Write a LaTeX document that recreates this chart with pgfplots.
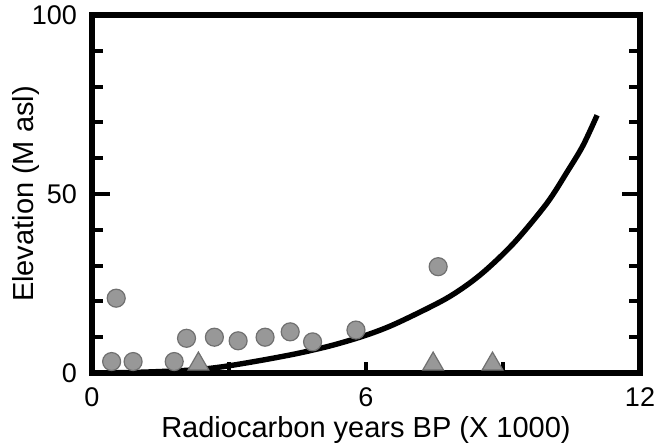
\documentclass[border=0pt]{standalone}
\usepackage{fontspec}
\setmainfont{Liberation Sans}
\usepackage{pgfplots}
\pgfplotsset{compat=1.18}
\definecolor{markfill}{RGB}{152,152,152}
\definecolor{markedge}{RGB}{112,112,112}
\begin{document}
\begin{tikzpicture}
\useasboundingbox (-46pt,-37pt) rectangle (288pt,186.5pt);
\begin{axis}[
  scale only axis, width=274pt, height=179pt,
  xmin=0, xmax=12, ymin=0, ymax=100,
  clip=false,
  xtick={0,6,12}, ytick={0,50,100},
  minor xtick={3,6,9}, minor ytick={10,20,30,40,60,70,80,90},
  xtick pos=left, xticklabel pos=left,
  ytick pos=both, yticklabel pos=left,
  tick align=inside,
  major tick length=9pt, minor tick length=5.5pt,
  major x tick style={draw=none},
  every tick/.style={line width=2pt, black},
  axis line style={line width=3pt, black},
  /pgf/number format/assume math mode=true,
  tick label style={font=\fontsize{13.5}{15}\selectfont},
  xticklabel style={yshift=-4pt},
  yticklabel style={xshift=-4pt},
  label style={font=\fontsize{14.5}{17}\selectfont},
  xlabel={Radiocarbon years BP (X 1000)},
  ylabel={Elevation (M asl)},
  xlabel style={at={(axis description cs:0.5,-0.16)}, anchor=center},
  ylabel style={at={(axis description cs:-0.12,0.5)}, anchor=center},
]
% fitted curve
\addplot[black, line width=2.7pt, smooth] coordinates {
  (0,0) (1,0.2) (2,0.7) (2.58,1.3) (3.09,2.2) (3.82,3.8) (4.55,5.6)
  (5.28,7.8) (6.01,10.6) (6.67,13.9) (7.77,20.9) (8.50,27.4)
  (9.23,36.2) (9.96,47.4) (10.41,56.3) (10.75,63.5) (11.06,72.0)
};
% circles
\addplot[only marks, mark=*, mark size=4.5pt,
  mark options={fill=markfill, draw=markedge, line width=0.6pt}] coordinates {
  (0.43,3.2) (0.53,20.9) (0.90,3.2) (1.80,3.2) (2.07,9.7) (2.68,10.0)
  (3.20,9.0) (3.79,10.0) (4.34,11.5) (4.83,8.7) (5.78,12.0) (7.58,29.7)
};
% triangles
\addplot[only marks, mark=triangle*, mark size=6pt,
  mark options={fill=markfill, draw=markedge, line width=0.6pt}] coordinates {
  (2.33,2.5) (7.47,2.5) (8.77,2.5)
};
\end{axis}
\end{tikzpicture}
\end{document}
